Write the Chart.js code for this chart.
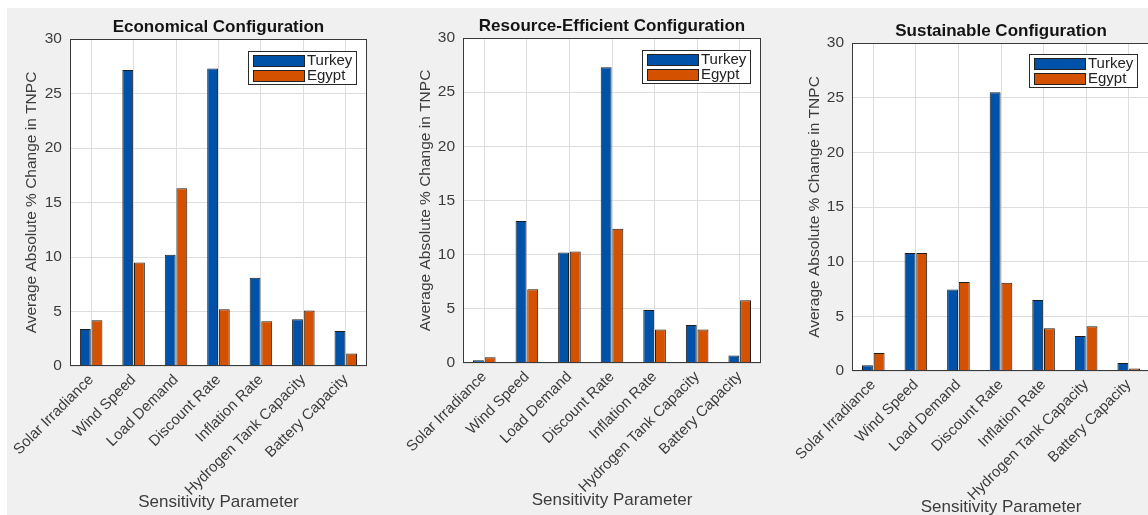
<!DOCTYPE html>
<html>
<head>
<meta charset="utf-8">
<script src="https://cdn.jsdelivr.net/npm/chart.js@4.4.1/dist/chart.umd.min.js"></script>
<style>
html, body { margin: 0; padding: 0; background: #fff; overflow: hidden; width: 1148px; height: 515px; }
#fig { position: absolute; left: 7px; top: 8px; width: 1141px; height: 507px; background: #f0f0f0; overflow: hidden; }
canvas { position: absolute; }
</style>
</head>
<body>
<div id="fig">
  <canvas id="chart_economical" width="373" height="507" style="left:0px;top:0px"></canvas>
  <canvas id="chart_resource" width="380" height="505" style="left:378px;top:0px"></canvas>
  <canvas id="chart_sustainable" width="382" height="512" style="left:763px;top:0px"></canvas>
</div>
<script>
// sensitivity parameters (x categories)
const categories = ['Solar Irradiance', 'Wind Speed', 'Load Demand', 'Discount Rate', 'Inflation Rate', 'Hydrogen Tank Capacity', 'Battery Capacity'];
const yTicks = [0, 5, 10, 15, 20, 25, 30];
const seriesNames = ['Turkey', 'Egypt'];

// average absolute % change in TNPC
const economicalTurkey = [3.4, 27.15, 10.2, 27.3, 8.1, 4.3, 3.2];
const economicalEgypt = [4.2, 9.5, 16.3, 5.2, 4.1, 5.1, 1.15];
const resourceTurkey = [0.25, 13.1, 10.2, 27.3, 4.9, 3.5, 0.7];
const resourceEgypt = [0.52, 6.8, 10.3, 12.4, 3.1, 3.1, 5.8];
const sustainableTurkey = [0.52, 10.8, 7.45, 25.5, 6.5, 3.2, 0.73];
const sustainableEgypt = [1.65, 10.8, 8.15, 8.07, 3.9, 4.1, 0.24];

const FONT = '"Liberation Sans", Arial, sans-serif';
const BLUE = '#0052a8';
const ORANGE = '#d45100';

// matlab-ish axes box, white plot background, title and inset legend
const matlabFrame = {
    id: 'matlabFrame',
    beforeDraw: (chart, args, opts) => {
        const ctx = chart.ctx, a = chart.chartArea;
        ctx.save();
        ctx.fillStyle = '#ffffff';
        ctx.fillRect(a.left, a.top, a.width, a.height);
        ctx.restore();
    },
    afterDraw: (chart, args, opts) => {
        const ctx = chart.ctx, a = chart.chartArea;
        ctx.save();
        ctx.strokeStyle = '#3a3a3a';
        ctx.lineWidth = 1;
        ctx.strokeRect(Math.round(a.left) + 0.5, Math.round(a.top) + 0.5, Math.round(a.width) - 1, Math.round(a.height) - 1);

        ctx.fillStyle = '#141414';
        ctx.font = 'bold 17px ' + FONT;
        ctx.textAlign = 'center';
        ctx.textBaseline = 'middle';
        ctx.fillText(opts.title, (a.left + a.right) / 2, a.top - 12);

        const w = 108, h = 33;
        const x = Math.round(a.right - opts.legendRight - w), y = Math.round(a.top + opts.legendTop);
        ctx.fillStyle = '#ffffff';
        ctx.fillRect(x, y, w, h);
        ctx.strokeStyle = '#2a2a2a';
        ctx.strokeRect(x + 0.5, y + 0.5, w, h);
        chart.data.datasets.forEach((ds, i) => {
            const sy = y + 4 + i * 15;
            ctx.fillStyle = ds.backgroundColor;
            ctx.fillRect(x + 5, sy, 51, 11);
            ctx.strokeStyle = '#222';
            ctx.strokeRect(x + 5.5, sy + 0.5, 51, 11);
            ctx.fillStyle = '#222';
            ctx.font = '15px ' + FONT;
            ctx.textAlign = 'left';
            ctx.textBaseline = 'middle';
            ctx.fillText(ds.label, x + 59, sy + 6);
        });
        ctx.restore();
    }
};

function makeChart(id, title, turkey, egypt, box) {
    return new Chart(document.getElementById(id), {
        type: 'bar',
        data: {
            labels: categories,
            datasets: [
                { label: seriesNames[0], data: turkey, backgroundColor: BLUE, borderColor: '#1e1e1e', borderWidth: 1 },
                { label: seriesNames[1], data: egypt, backgroundColor: ORANGE, borderColor: '#1e1e1e', borderWidth: 1 }
            ]
        },
        options: {
            animation: false,
            responsive: false,
            devicePixelRatio: 1,
            categoryPercentage: 0.55,
            barPercentage: 0.93,
            layout: { padding: { left: 0, right: box.padRight, top: box.top, bottom: 0 } },
            plugins: {
                legend: { display: false },
                title: { display: false },
                tooltip: { enabled: false },
                matlabFrame: { title: title, legendRight: box.legendRight, legendTop: box.legendTop }
            },
            scales: {
                x: {
                    grid: { color: '#dedede', offset: false, drawTicks: false },
                    border: { display: false },
                    ticks: {
                        color: '#3c3c3c',
                        font: { family: FONT, size: 15 },
                        maxRotation: 45,
                        minRotation: 45,
                        autoSkip: false,
                        padding: 5
                    },
                    title: {
                        display: true,
                        text: 'Sensitivity Parameter',
                        color: '#3c3c3c',
                        font: { family: FONT, size: 17 },
                        padding: { top: 0, bottom: 2 }
                    },
                    afterFit: (scale) => { scale.height = box.xHeight; }
                },
                y: {
                    min: 0,
                    max: 30,
                    afterBuildTicks: (scale) => { scale.ticks = yTicks.map(v => ({ value: v })); },
                    grid: { color: '#dedede', drawTicks: false },
                    border: { display: false },
                    ticks: {
                        color: '#3c3c3c',
                        font: { family: FONT, size: 15.5 },
                        padding: 8
                    },
                    title: {
                        display: true,
                        text: 'Average Absolute % Change in TNPC',
                        color: '#3c3c3c',
                        font: { family: FONT, size: 15.5 },
                        padding: { top: box.yTitlePad, bottom: 0 }
                    },
                    afterFit: (scale) => { scale.width = box.left; }
                }
            }
        },
        plugins: [matlabFrame]
    });
}

makeChart('chart_economical', 'Economical Configuration', economicalTurkey, economicalEgypt,
    { left: 60, padRight: 13, top: 31, xHeight: 149, yTitlePad: 12, legendRight: 11, legendTop: 12 });
makeChart('chart_resource', 'Resource-Efficient Configuration', resourceTurkey, resourceEgypt,
    { left: 78, padRight: 4, top: 30, xHeight: 150, yTitlePad: 31, legendRight: 11, legendTop: 12 });
makeChart('chart_sustainable', 'Sustainable Configuration', sustainableTurkey, sustainableEgypt,
    { left: 82, padRight: 2, top: 35, xHeight: 149, yTitlePad: 35, legendRight: 13, legendTop: 11 });
</script>
</body>
</html>
